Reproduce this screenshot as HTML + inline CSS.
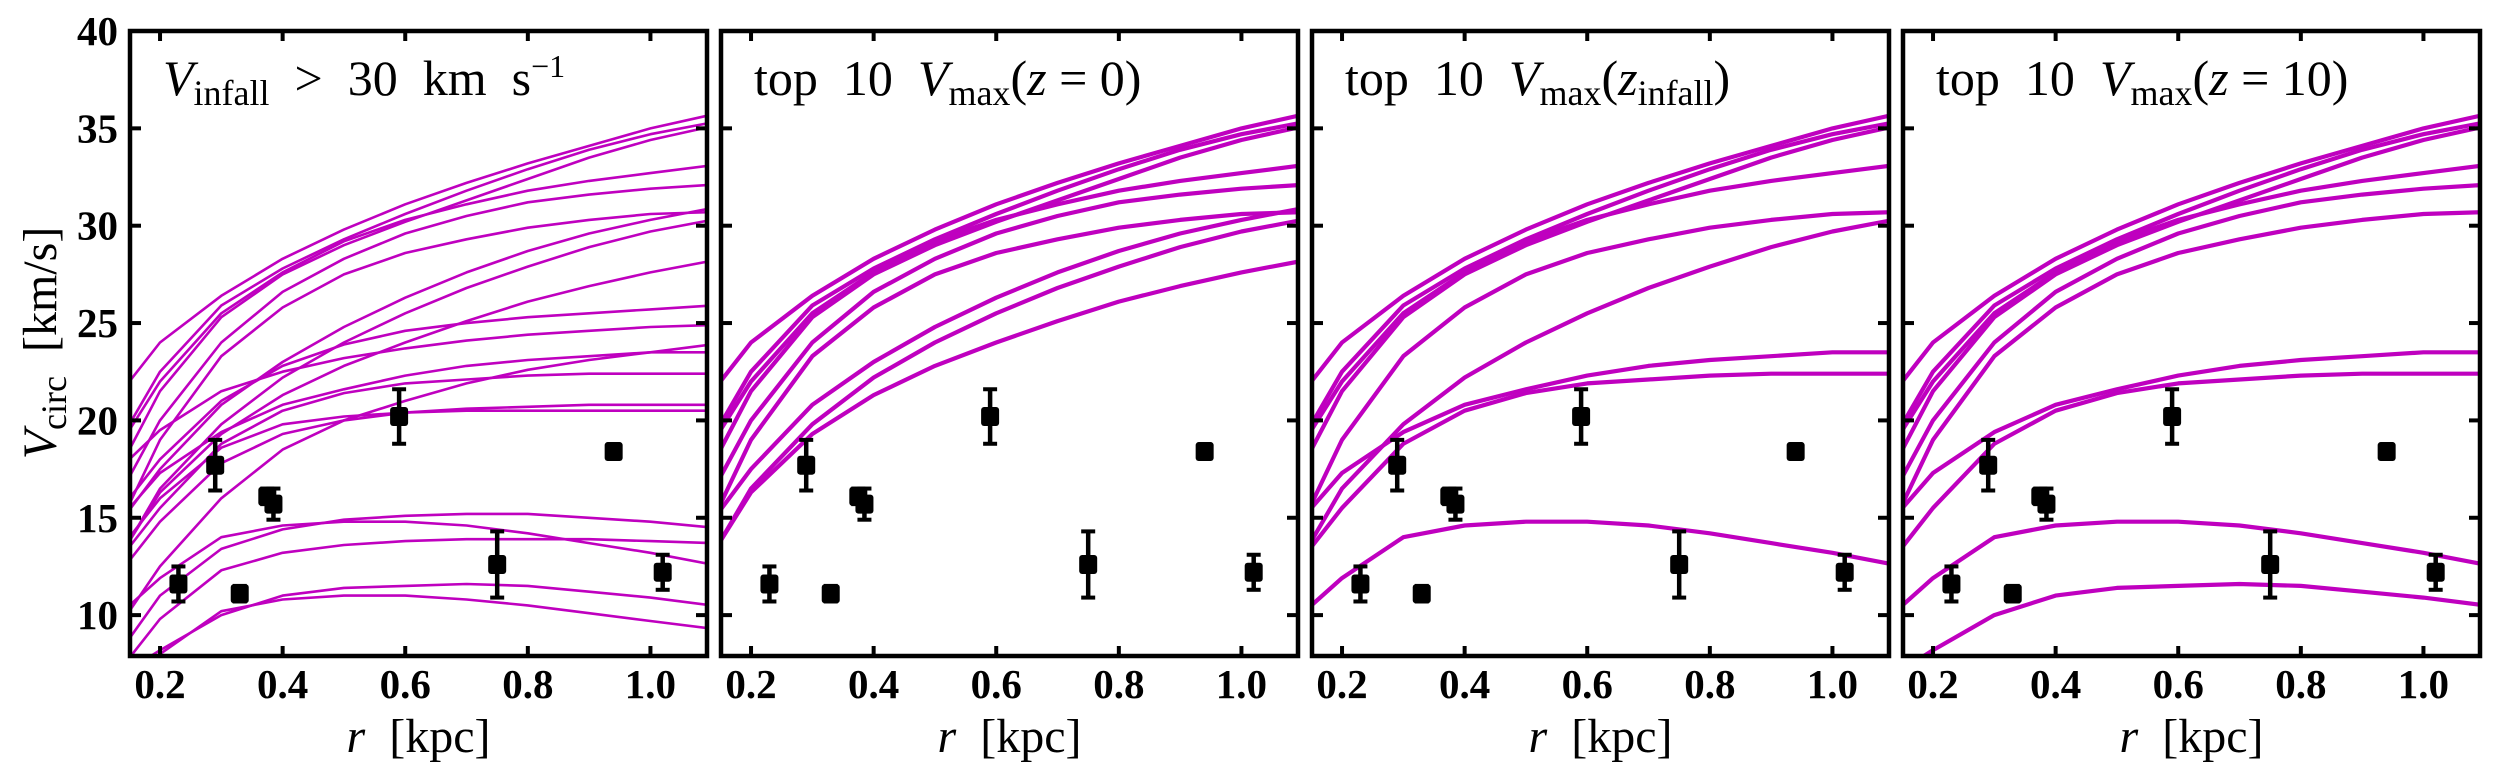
<!DOCTYPE html>
<html><head><meta charset="utf-8"><style>
html,body{margin:0;padding:0;background:#fff;}
svg{display:block;}
text{font-family:"Liberation Serif","DejaVu Serif",serif;fill:#000;}
.tick{font-weight:bold;font-size:41px;}
</style></head><body>
<svg id="fig" width="2500" height="773" viewBox="0 0 2500 773" xmlns="http://www.w3.org/2000/svg"></svg>
<script>
// ---- data ----
const radii = [0.15,0.2,0.3,0.4,0.5,0.6,0.7,0.8,0.9,1.0,1.1];
const curveA = [22.0,24.0,26.4,28.3,29.8,31.1,32.2,33.2,34.1,35.0,35.7];
const curveB = [19.8,22.5,25.9,27.8,29.3,30.6,31.8,32.9,33.9,34.7,35.3];
const curveC = [18.5,21.5,25.3,27.5,29.0,30.2,31.3,32.4,33.5,34.4,35.1];
const curveD = [19.5,22.0,25.5,27.6,29.2,30.3,31.1,31.8,32.3,32.7,33.1];
const curveE = [17.1,20.0,24.0,26.6,28.3,29.6,30.5,31.2,31.6,31.9,32.1];
const curveF = [15.7,19.0,23.3,25.8,27.5,28.6,29.3,29.9,30.3,30.6,30.7];
const curveG = [15.4,17.5,20.8,23.0,24.8,26.3,27.6,28.7,29.6,30.3,30.9];
const curveH = [13.8,16.5,19.8,22.2,24.0,25.5,26.8,27.9,28.9,29.7,30.3];
const curveI = [13.8,16.3,19.3,21.3,22.8,24.0,25.1,26.1,26.9,27.6,28.2];
const curveJ = [15.5,17.3,19.4,20.8,21.6,22.3,22.8,23.1,23.3,23.5,23.5];
const curveK = [13.5,15.5,18.8,20.5,21.4,21.9,22.1,22.3,22.4,22.4,22.4];
const curveL = [10.5,11.9,14.0,14.6,14.8,14.8,14.6,14.2,13.7,13.2,12.6];
const curveM = [7.2,8.2,10.0,11.0,11.4,11.5,11.6,11.5,11.2,10.9,10.5];
const curveN = [16.0,18.0,21.0,22.8,23.9,24.6,25.0,25.3,25.5,25.7,25.9];
const curveO = [18.0,19.5,21.5,22.5,23.2,23.7,24.1,24.4,24.6,24.8,24.9];
const curveP = [10.2,12.5,16.0,18.5,20.0,21.0,21.9,22.6,23.1,23.5,23.9];
const curveQ = [12.8,14.8,17.8,19.3,20.0,20.4,20.6,20.7,20.8,20.8,20.8];
const curveR = [14.0,16.0,18.6,19.8,20.2,20.4,20.5,20.5,20.5,20.5,20.5];
const curveS = [8.8,11.0,13.4,14.4,14.9,15.1,15.2,15.2,15.0,14.8,14.5];
const curveT = [7.8,9.8,12.3,13.2,13.6,13.8,13.9,13.9,13.9,13.8,13.7];
const curveU = [6.5,8.0,10.2,10.8,11.0,11.0,10.8,10.5,10.1,9.7,9.3];
const panel1Curves = [curveA,curveB,curveC,curveD,curveE,curveF,curveG,curveH,curveI,curveJ,curveK,curveL,curveM,curveN,curveO,curveP,curveQ,curveR,curveS,curveT,curveU];
const panel2Curves = [curveA,curveB,curveC,curveD,curveE,curveF,curveG,curveH,curveI];
const panel3Curves = [curveA,curveB,curveC,curveD,curveF,curveH,curveJ,curveK,curveL];
const panel4Curves = [curveA,curveB,curveC,curveD,curveE,curveF,curveJ,curveK,curveL,curveM];
const obsR = [0.23,0.29,0.33,0.375,0.385,0.59,0.75,0.94,1.02];
const obsV = [11.6,17.7,11.1,16.1,15.7,20.2,12.6,18.4,12.2];
const obsErr = [0.9,1.3,0.4,0.4,0.8,1.4,1.7,0.3,0.9];
const xTicks = [0.2,0.4,0.6,0.8,1.0];
const xTickLabels = ["0.2","0.4","0.6","0.8","1.0"];
const yTicks = [10,15,20,25,30,35,40];
const yTickLabels = ["10","15","20","25","30","35","40"];

// ---- layout ----
const NS="http://www.w3.org/2000/svg";
const svg=document.getElementById('fig');
const panelLeft=[130,721,1312,1903], PW=577, TOP=31, BOT=656;
const XMIN=0.151, XMAX=0.151+PW/613, YMIN=7.9, YMAX=40;
const COLOR="#bf00bf";
function mk(tag,attrs,parent){const e=document.createElementNS(NS,tag);for(const k in attrs)e.setAttribute(k,attrs[k]);(parent||svg).appendChild(e);return e;}

const panels=[
 {curves:panel1Curves,lw:2.6,name:'panel-vinfall'},
 {curves:panel2Curves,lw:4.2,name:'panel-top10-z0'},
 {curves:panel3Curves,lw:4.2,name:'panel-top10-zinfall'},
 {curves:panel4Curves,lw:4.2,name:'panel-top10-z10'}
];
const titles=[
 '<tspan font-style="italic">V</tspan><tspan font-size="36" dy="10">infall</tspan><tspan dy="-10">  &gt;  30  km  s</tspan><tspan font-size="32" dy="-18">−1</tspan>',
 'top  10  <tspan font-style="italic">V</tspan><tspan font-size="36" dy="10">max</tspan><tspan dy="-10">(</tspan><tspan font-style="italic">z</tspan> = 0)',
 'top  10  <tspan font-style="italic">V</tspan><tspan font-size="36" dy="10">max</tspan><tspan dy="-10">(</tspan><tspan font-style="italic">z</tspan><tspan font-size="36" dy="10">infall</tspan><tspan dy="-10">)</tspan>',
 'top  10  <tspan font-style="italic">V</tspan><tspan font-size="36" dy="10">max</tspan><tspan dy="-10">(</tspan><tspan font-style="italic">z</tspan> = 10)'
];

panels.forEach((p,pi)=>{
  const L=panelLeft[pi];
  const xs=r=>L+(r-XMIN)/(XMAX-XMIN)*PW;
  const ys=v=>BOT-(v-YMIN)/(YMAX-YMIN)*(BOT-TOP);
  const g=mk('g',{});
  
  
  const cid='clip'+pi;
  const cp=mk('clipPath',{id:cid},g); mk('rect',{x:L,y:TOP,width:PW,height:BOT-TOP},cp);
  const cg=mk('g',{'clip-path':'url(#'+cid+')'},g);
  p.curves.forEach((c,ci)=>{
    const d=c.map((v,i)=>(i?'L':'M')+xs(radii[i]).toFixed(1)+' '+ys(v).toFixed(1)).join(' ');
    const path=mk('path',{d:d,fill:'none',stroke:COLOR,'stroke-width':p.lw,'stroke-linejoin':'round'},cg);
    
    
  });
  obsR.forEach((r,i)=>{
    const x=xs(r),y=ys(obsV[i]),y1=ys(obsV[i]+obsErr[i]),y2=ys(obsV[i]-obsErr[i]);
    const eg=mk('g',{},cg);
    
    
    mk('line',{x1:x,x2:x,y1:y1,y2:y2,stroke:'#000','stroke-width':4.5},eg);
    mk('line',{x1:x-7,x2:x+7,y1:y1,y2:y1,stroke:'#000','stroke-width':4},eg);
    mk('line',{x1:x-7,x2:x+7,y1:y2,y2:y2,stroke:'#000','stroke-width':4},eg);
    mk('rect',{x:x-9,y:y-9.5,width:18,height:19,rx:3,fill:'#000'},eg);
  });
  xTicks.forEach((t,i)=>{
    const x=xs(t);
    mk('line',{x1:x,x2:x,y1:BOT,y2:BOT-10,stroke:'#000','stroke-width':4},g);
    mk('line',{x1:x,x2:x,y1:TOP,y2:TOP+10,stroke:'#000','stroke-width':4},g);
    const tx=mk('text',{x:x,y:698,'text-anchor':'middle',class:'tick'},g);
    tx.textContent=xTickLabels[i];
    
    
  });
  yTicks.forEach((t,i)=>{
    const y=ys(t);
    mk('line',{x1:L,x2:L+11,y1:y,y2:y,stroke:'#000','stroke-width':4},g);
    mk('line',{x1:L+PW,x2:L+PW-11,y1:y,y2:y,stroke:'#000','stroke-width':4},g);
    if(pi===0){
      const ty=mk('text',{x:118,y:y+14,'text-anchor':'end',class:'tick'},g);
      ty.textContent=yTickLabels[i];
      
      
    }
  });
  const frame=mk('rect',{x:L,y:TOP,width:PW,height:BOT-TOP,fill:'none',stroke:'#000','stroke-width':4.5},g);
  
  
  const tt=mk('text',{x:L+33,y:95,'font-size':50,'xml:space':'preserve',style:'white-space:pre'},g);
  tt.innerHTML=titles[pi];
  
  
  const xt=mk('text',{x:L+PW/2,y:752,'text-anchor':'middle','font-size':48,style:'white-space:pre'},g);
  xt.innerHTML='<tspan font-style="italic">r</tspan>  [kpc]';
  
  
});
const yt=mk('text',{x:0,y:0,'text-anchor':'middle','font-size':48,style:'white-space:pre',transform:'translate(56 343) rotate(-90)'});
yt.innerHTML='<tspan font-style="italic">V</tspan><tspan font-size="36" dy="10">circ</tspan><tspan dy="-10">  [km/s]</tspan>';


</script>
</body></html>
